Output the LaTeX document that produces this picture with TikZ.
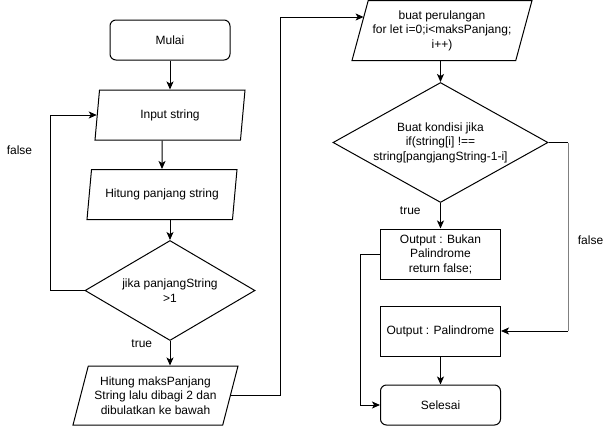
\documentclass[tikz,border=0pt]{standalone}
\usepackage{fontspec}
\setmainfont{Liberation Sans}
\usetikzlibrary{shapes.geometric,arrows.meta}
\begin{document}
\begin{tikzpicture}[x=1pt,y=-1pt,line width=1pt,>={Stealth[length=8pt,width=7pt,inset=2pt]},
 every node/.style={font=\fontsize{12}{14.5}\selectfont,align=center},
 ujung/.style={draw,rounded corners=6pt,minimum width=120pt,minimum height=40pt},
 proses/.style={draw,minimum width=120pt,minimum height=50pt},
 masukan/.style={draw,trapezium,trapezium left angle=68,trapezium right angle=112,trapezium stretches body,inner sep=0pt},
 pilih/.style={draw,diamond,inner sep=0pt}]
 \useasboundingbox (0,0) rectangle (611,426);
 \node[ujung] (mulai) at (170,40) {Mulai};
 \node[masukan,minimum width=150pt,minimum height=50pt] (input) at (170,115) {Input string};
 \node[masukan,minimum width=150pt,minimum height=50pt] (panjang) at (162,194.5) {Hitung panjang string};
 \node[pilih,minimum width=170pt,minimum height=100pt,aspect=1.7] (cek) at (170,290.5) {jika panjangString\\>1};
 \node[masukan,minimum width=165pt,minimum height=59pt] (maks) at (155.5,395.5) {Hitung maksPanjang\\String lalu dibagi 2 dan\\dibulatkan ke bawah};
 \node[masukan,minimum width=180pt,minimum height=60pt] (ulang) at (442,30.5) {buat perulangan\\for let i=0;i<maksPanjang;\\i++)};
 \node[pilih,minimum width=215pt,minimum height=120pt,aspect=1.8] (kondisi) at (440.5,142.5) {Buat kondisi jika\\if(string[i] !==\\string[pangjangString-1-i]};
 \node[proses] (bukan) at (440.5,254) {Output : Bukan\\Palindrome\\return false;};
 \node[proses] (palin) at (440.5,331) {Output : Palindrome};
 \node[ujung] (selesai) at (440.5,405) {Selesai};
 \coordinate (kiri) at (50,290.5);
 \coordinate (atas) at (280,17);
 \coordinate (kanan) at (568,142.5);
 \coordinate (bawah) at (568,331);
 \coordinate (samping) at (360,405);
 \draw[->] (mulai) -- (input);
 \draw[->] (input.south -| panjang) -- (panjang.north);
 \draw[->] (panjang.south -| cek) -- (cek.north);
 \draw[->] (cek.south) -- node[pos=0.1,left=14pt]{true} (cek.south |- maks.north);
 \draw[->] (cek.west) -- (kiri) |- node[pos=0.4,left=14pt]{false} (input.west);
 \draw[->] (maks.east) -| (atas) -- ([xshift=4pt]atas -| ulang.west);
 \draw[->] (ulang.south -| kondisi) -- (kondisi.north);
 \draw[->] (kondisi.south) -- node[pos=0.3,left=16pt]{true} (bukan.north);
 \draw (kondisi.east) -- (kanan);
 \draw[gray] (kanan) -- node[pos=0.52,right=6pt,text=black]{false} (bawah);
 \draw[->] (bawah) -- (palin.east);
 \draw[->] (bukan.west) -| (samping) -- (selesai.west);
 \draw[->] (palin) -- (selesai);
\end{tikzpicture}
\end{document}
